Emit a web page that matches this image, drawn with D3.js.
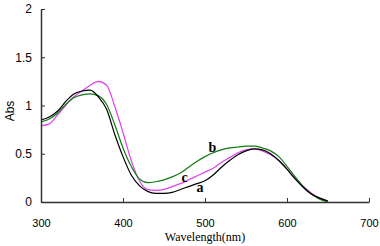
<!DOCTYPE html>
<html>
<head>
<meta charset="utf-8">
<script src="https://cdn.jsdelivr.net/npm/d3@7"></script>
<style>
  html, body { margin: 0; padding: 0; background: #fff; }
  svg { display: block; }
</style>
</head>
<body>
<svg id="chart" width="380" height="246"></svg>
<script>
// wavelengths (nm), shared by all three spectra
const wavelengths = [300, 310, 320, 330, 340, 350, 360, 370, 380, 390, 400, 410, 420, 430, 440, 450, 460, 470,
  480, 490, 500, 510, 520, 530, 540, 550, 560, 570, 580, 590, 600, 610, 620, 630, 640, 650];

const absA = [0.85, 0.88, 0.94, 1.04, 1.12, 1.15, 1.16, 1.09, 0.96, 0.70, 0.47, 0.28, 0.17, 0.11, 0.09, 0.09, 0.10, 0.13,
  0.16, 0.19, 0.22, 0.28, 0.36, 0.43, 0.49, 0.53, 0.55, 0.54, 0.50, 0.43, 0.34, 0.24, 0.15, 0.08, 0.04, 0.01];
const absB = [0.83, 0.86, 0.92, 1.01, 1.08, 1.11, 1.12, 1.10, 1.01, 0.80, 0.56, 0.37, 0.24, 0.20, 0.21, 0.23, 0.26, 0.30,
  0.36, 0.42, 0.47, 0.51, 0.54, 0.56, 0.57, 0.58, 0.58, 0.56, 0.53, 0.47, 0.37, 0.26, 0.16, 0.08, 0.03, 0.00];
const absC = [0.79, 0.81, 0.90, 1.00, 1.09, 1.15, 1.21, 1.25, 1.21, 0.99, 0.72, 0.43, 0.22, 0.13, 0.12, 0.13, 0.16, 0.19,
  0.23, 0.27, 0.31, 0.35, 0.41, 0.46, 0.51, 0.54, 0.55, 0.53, 0.49, 0.43, 0.34, 0.24, 0.16, 0.09, 0.04, 0.01];

const xTicks = [300, 400, 500, 600, 700];
const yTicks = [0, 0.5, 1, 1.5, 2];

// curve label: name and the point it sits at
const labels = [
  { name: "a", wl: 494, abs: 0.15 },
  { name: "c", wl: 475, abs: 0.26 },
  { name: "b", wl: 509, abs: 0.57 }
];

const margin = { top: 9, right: 11, bottom: 44, left: 41 };
const width = 380, height = 246;

const svg = d3.select("#chart");

const x = d3.scaleLinear().domain([300, 700]).range([margin.left, width - margin.right]);
const y = d3.scaleLinear().domain([0, 2]).range([height - margin.bottom, margin.top]);

const series = [
  { values: absA, color: "#000000" },
  { values: absB, color: "#0f7a0f" },
  { values: absC, color: "#e040f0" }
];

const line = d3.line()
  .x((d, i) => x(wavelengths[i]))
  .y(d => y(d))
  .curve(d3.curveMonotoneX);

// draw magenta first so black sits on top where they overlap
[series[2], series[1], series[0]].forEach(s => {
  svg.append("path")
    .attr("d", line(s.values))
    .attr("fill", "none")
    .attr("stroke", s.color)
    .attr("stroke-width", 1.2);
});

// axes
const xAxis = svg.append("g")
  .attr("transform", `translate(0,${height - margin.bottom})`)
  .call(d3.axisBottom(x).tickValues(xTicks).tickFormat(d3.format("d"))
    .tickSizeInner(-4).tickSizeOuter(0).tickPadding(17));

const yAxis = svg.append("g")
  .attr("transform", `translate(${margin.left},0)`)
  .call(d3.axisLeft(y).tickValues(yTicks).tickFormat(d => d)
    .tickSizeInner(-4).tickSizeOuter(0).tickPadding(9));

[xAxis, yAxis].forEach(g => {
  g.select(".domain").attr("stroke", "#333").attr("stroke-width", 1.5);
  g.selectAll(".tick line").attr("stroke", "#333").attr("stroke-width", 1);
  g.selectAll(".tick text").attr("fill", "#000")
    .style("font-family", "'Liberation Sans', Arial, sans-serif");
});
xAxis.selectAll(".tick text").style("font-size", "11px");
yAxis.selectAll(".tick text").style("font-size", "12px");

// axis titles
svg.append("text")
  .attr("x", (margin.left + width - margin.right) / 2)
  .attr("y", 241)
  .attr("text-anchor", "middle")
  .style("font-family", "'Liberation Serif', 'Times New Roman', serif")
  .style("font-size", "12px")
  .text("Wavelength(nm)");

svg.append("text")
  .attr("transform", "translate(14,111) rotate(-90)")
  .attr("text-anchor", "middle")
  .style("font-family", "'Liberation Sans', Arial, sans-serif")
  .style("font-size", "12px")
  .text("Abs");

// curve letters
svg.selectAll(".lbl")
  .data(labels)
  .join("text")
  .attr("class", "lbl")
  .attr("x", d => x(d.wl))
  .attr("y", d => y(d.abs))
  .attr("text-anchor", "middle")
  .attr("dy", "0.35em")
  .style("font-family", "'Liberation Serif', 'Times New Roman', serif")
  .style("font-weight", "bold")
  .style("font-size", "14px")
  .text(d => d.name);
</script>
</body>
</html>
